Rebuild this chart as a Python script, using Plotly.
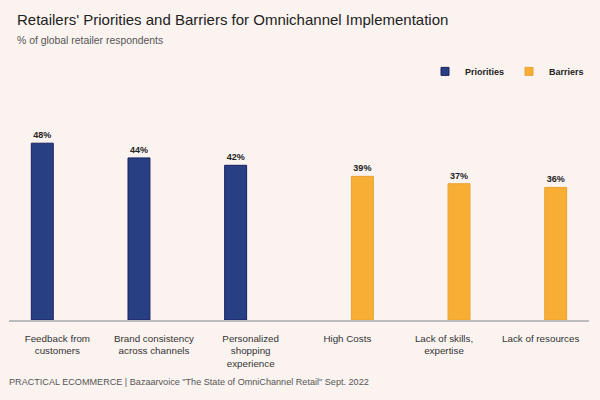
import plotly.graph_objects as go

categories = ["Feedback from<br>customers", "Brand consistency<br>across channels",
              "Personalized<br>shopping<br>experience", "High Costs",
              "Lack of skills,<br>expertise", "Lack of resources"]
priority_cats = categories[:3]
priority_vals = [48, 44, 42]
barrier_cats = categories[3:]
barrier_vals = [39, 37, 36]

BG = "#FBF3F0"
NAVY = "#283F84"
ORANGE = "#F8AE35"
FONT = "Liberation Sans, Arial, sans-serif"

fig = go.Figure()
fig.add_trace(go.Bar(
    x=priority_cats, y=priority_vals, name="Priorities", offsetgroup="p",
    showlegend=False,
    marker=dict(color=NAVY, line=dict(color="#1A215E", width=1)),
    texttemplate="%{y}%", textposition="outside", cliponaxis=False,
    textfont=dict(family=FONT, size=9, color="#222222", weight="bold"),
))
fig.add_trace(go.Bar(
    x=barrier_cats, y=barrier_vals, name="Barriers", offsetgroup="b",
    showlegend=False,
    marker=dict(color=ORANGE, line=dict(color="#E9A22E", width=1)),
    texttemplate="%{y}%", textposition="outside", cliponaxis=False,
    textfont=dict(family=FONT, size=9, color="#222222", weight="bold"),
))
# legend entries
for name, col, lc in [("Priorities", NAVY, "#1A215E"), ("Barriers", ORANGE, "#E9A22E")]:
    fig.add_trace(go.Scatter(
        x=[None], y=[None], mode="markers", name=name,
        marker=dict(symbol="square", size=8, color=col, line=dict(color=lc, width=1)),
    ))

fig.update_layout(
    width=600, height=400,
    paper_bgcolor=BG, plot_bgcolor=BG,
    font=dict(family=FONT, color="#333333"),
    barmode="group", bargap=0.378, bargroupgap=0.27,
    margin=dict(l=9, r=11, t=99, b=80),
    showlegend=True,
    legend=dict(orientation="h", x=1.0, xanchor="right", y=1.125, yanchor="middle",
                font=dict(family=FONT, size=9, color="#222222", weight="bold"),
                bgcolor="rgba(0,0,0,0)", itemwidth=30, traceorder="normal"),
    xaxis=dict(type="category", categoryorder="array", categoryarray=categories,
               showline=True, linecolor="#BBBBBB", linewidth=1.5,
               showgrid=False, ticks="", ticklabelstandoff=8,
               tickfont=dict(family=FONT, size=9.8, color="#333333")),
    yaxis=dict(range=[0, 60], visible=False, showgrid=False, zeroline=False),
)

def txt(s, x, y, size, color):
    fig.add_annotation(text=s, xref="paper", yref="paper",
                       x=(x - 9) / 580, y=(320 - y) / 221,
                       xanchor="left", yanchor="middle", showarrow=False,
                       font=dict(family=FONT, size=size, color=color))

txt("Retailers' Priorities and Barriers for Omnichannel Implementation", 15, 20, 15, "#222222")
txt("% of global retailer respondents", 15, 40, 10.4, "#555555")
txt("PRACTICAL ECOMMERCE | Bazaarvoice \"The State of OmniChannel Retail\" Sept. 2022", 7, 382, 9.1, "#555555")

fig.write_html("out.html", config={"displayModeBar": False},
               post_script="document.body.style.margin='0';")
